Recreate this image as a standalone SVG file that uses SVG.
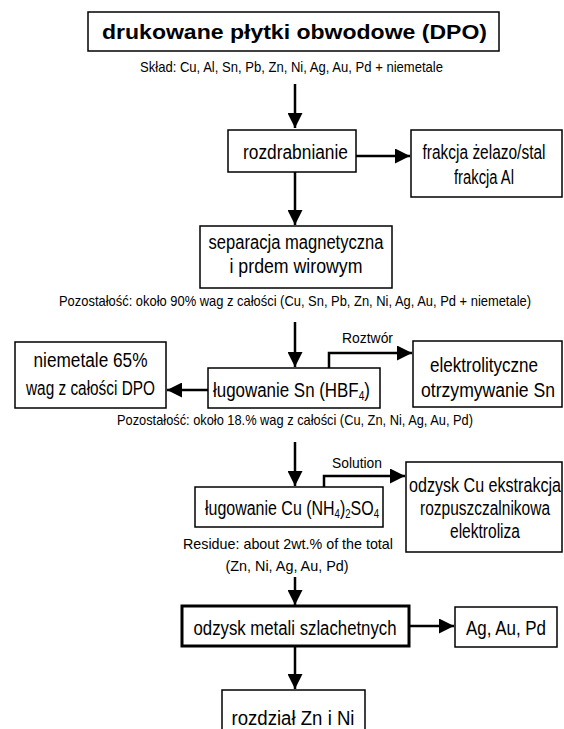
<svg xmlns="http://www.w3.org/2000/svg" width="564" height="729" viewBox="0 0 564 729">
<style>
.box{fill:#fff;stroke:#000;stroke-width:1.5}
.thick{fill:#fff;stroke:#000;stroke-width:3}
.t{font-family:"Liberation Sans",Arial,sans-serif;font-size:20px;fill:#000;text-anchor:middle}
.s{font-family:"Liberation Sans",Arial,sans-serif;font-size:14.5px;fill:#000;text-anchor:middle}
.b{font-family:"Liberation Sans",Arial,sans-serif;font-size:21px;font-weight:bold;fill:#000;text-anchor:middle}
.c{fill:none;stroke:#000;stroke-width:2.5}
</style>
<defs>
<marker id="ah" viewBox="0 0 10 10" refX="10" refY="5" markerUnits="userSpaceOnUse" markerWidth="15" markerHeight="15" orient="auto">
<path d="M0,0 L10,5 L0,10 z" fill="#000"/>
</marker>
</defs>
<rect width="564" height="729" fill="#fff"/>
<g id="connectors">
<path class="c" d="M295,84 V128" marker-end="url(#ah)"/>
<path class="c" d="M356,156 H410" marker-end="url(#ah)"/>
<path class="c" d="M295,172 V225" marker-end="url(#ah)"/>
<path class="c" d="M295,322 V367" marker-end="url(#ah)"/>
<path class="c" d="M208,390 H167" marker-end="url(#ah)"/>
<path class="c" d="M329,368 V353 H412" marker-end="url(#ah)"/>
<path class="c" d="M295,442 V486" marker-end="url(#ah)"/>
<path class="c" d="M324,487 V476 H405" marker-end="url(#ah)"/>
<path class="c" d="M295,577 V605" marker-end="url(#ah)"/>
<path class="c" d="M409,626 H454" marker-end="url(#ah)"/>
<path class="c" d="M295,646 V689" marker-end="url(#ah)"/>
</g>
<g id="n-dpo">
<rect class="box" x="88" y="12" width="411" height="39"/>
<text class="b" x="294.5" y="39" textLength="385" lengthAdjust="spacingAndGlyphs">drukowane płytki obwodowe (DPO)</text>
</g>
<text class="s" x="291.5" y="72" textLength="303" lengthAdjust="spacingAndGlyphs">Skład: Cu, Al, Sn, Pb, Zn, Ni, Ag, Au, Pd + niemetale</text>
<g id="n-rozdrabnianie">
<rect class="box" x="228" y="130" width="128" height="42"/>
<text class="t" x="295.5" y="159" textLength="105" lengthAdjust="spacingAndGlyphs">rozdrabnianie</text>
</g>
<g id="n-frakcja">
<rect class="box" x="411" y="130" width="151" height="67"/>
<text class="t" x="484" y="159" textLength="123" lengthAdjust="spacingAndGlyphs">frakcja żelazo/stal</text>
<text class="t" x="484" y="184" textLength="60" lengthAdjust="spacingAndGlyphs">frakcja Al</text>
</g>
<g id="n-separacja">
<rect class="box" x="200" y="226" width="192" height="62"/>
<text class="t" x="296" y="249" textLength="175" lengthAdjust="spacingAndGlyphs">separacja magnetyczna</text>
<text class="t" x="296" y="273" textLength="133" lengthAdjust="spacingAndGlyphs">i prdem wirowym</text>
</g>
<text class="s" x="295" y="306" textLength="472" lengthAdjust="spacingAndGlyphs">Pozostałość: około 90% wag z całości (Cu, Sn, Pb, Zn, Ni, Ag, Au, Pd + niemetale)</text>
<g id="n-niemetale">
<rect class="box" x="15" y="342" width="151" height="66"/>
<text class="t" x="90.5" y="367" textLength="114" lengthAdjust="spacingAndGlyphs">niemetale 65%</text>
<text class="t" x="90.5" y="395" textLength="129" lengthAdjust="spacingAndGlyphs">wag z całości DPO</text>
</g>
<g id="n-lugowanie-sn">
<rect class="box" x="208" y="368" width="172" height="40"/>
<text class="t" x="291.5" y="397" textLength="157" lengthAdjust="spacingAndGlyphs">ługowanie Sn (HBF<tspan font-size="12" dy="3">4</tspan><tspan dy="-3">)</tspan></text>
</g>
<text class="s" x="367.5" y="343" textLength="51" lengthAdjust="spacingAndGlyphs">Roztwór</text>
<g id="n-elektrolityczne">
<rect class="box" x="413" y="341" width="149" height="66"/>
<text class="t" x="484" y="372" textLength="108" lengthAdjust="spacingAndGlyphs">elektrolityczne</text>
<text class="t" x="488" y="397" textLength="134" lengthAdjust="spacingAndGlyphs">otrzymywanie Sn</text>
</g>
<text class="s" x="295" y="425" textLength="356" lengthAdjust="spacingAndGlyphs">Pozostałość: około 18.% wag z całości (Cu, Zn, Ni, Ag, Au, Pd)</text>
<g id="n-lugowanie-cu">
<rect class="box" x="195" y="487" width="188" height="40"/>
<text class="t" x="292" y="515" textLength="174" lengthAdjust="spacingAndGlyphs">ługowanie Cu (NH<tspan font-size="12" dy="3">4</tspan><tspan dy="-3">)</tspan><tspan font-size="12" dy="3">2</tspan><tspan dy="-3">SO</tspan><tspan font-size="12" dy="3">4</tspan></text>
</g>
<text class="s" x="357" y="468" textLength="50" lengthAdjust="spacingAndGlyphs">Solution</text>
<g id="n-odzysk-cu">
<rect class="box" x="406" y="462" width="156" height="90"/>
<text class="t" x="485" y="492" textLength="152" lengthAdjust="spacingAndGlyphs">odzysk Cu ekstrakcja</text>
<text class="t" x="485" y="515" textLength="130" lengthAdjust="spacingAndGlyphs">rozpuszczalnikowa</text>
<text class="t" x="485" y="538" textLength="70" lengthAdjust="spacingAndGlyphs">elektroliza</text>
</g>
<text class="s" x="288" y="549" textLength="210" lengthAdjust="spacingAndGlyphs">Residue: about 2wt.% of the total</text>
<text class="s" x="287" y="571" textLength="123" lengthAdjust="spacingAndGlyphs">(Zn, Ni, Ag, Au, Pd)</text>
<g id="n-odzysk-metali">
<rect class="thick" x="182" y="606" width="227" height="40"/>
<text class="t" x="295" y="635" textLength="203" lengthAdjust="spacingAndGlyphs">odzysk metali szlachetnych</text>
</g>
<g id="n-ag-au-pd">
<rect class="box" x="455" y="607" width="102" height="40"/>
<text class="t" x="506" y="635" textLength="80" lengthAdjust="spacingAndGlyphs">Ag, Au, Pd</text>
</g>
<g id="n-rozdzial">
<rect class="box" x="222" y="690" width="143" height="50"/>
<text class="t" x="293" y="725" textLength="123" lengthAdjust="spacingAndGlyphs">rozdział Zn i Ni</text>
</g>
</svg>
